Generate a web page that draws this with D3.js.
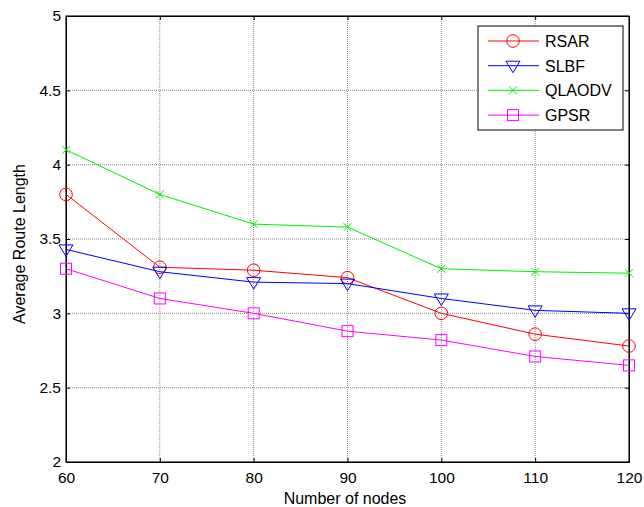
<!DOCTYPE html>
<html>
<head>
<meta charset="utf-8">
<script src="https://cdn.jsdelivr.net/npm/d3@7"></script>
<style>
  body { margin: 0; background: #fff; }
  svg text { font-family: "Liberation Sans", Arial, sans-serif; fill: #000; }
</style>
</head>
<body>
<svg id="chart" width="644" height="507"></svg>
<script>
  'use strict';

  let nodes = [60, 70, 80, 90, 100, 110, 120];
  let rsar = [3.80, 3.31, 3.29, 3.24, 3.00, 2.86, 2.78];
  let slbf = [3.43, 3.28, 3.21, 3.20, 3.10, 3.02, 3.00];
  let qlaodv = [4.10, 3.80, 3.60, 3.58, 3.30, 3.28, 3.27];
  let gpsr = [3.30, 3.10, 3.00, 2.88, 2.82, 2.71, 2.65];
  let yTicks = [2, 2.5, 3, 3.5, 4, 4.5, 5];

  let series = [
    { name: 'RSAR', values: rsar, color: '#ff0000', marker: 'circle' },
    { name: 'SLBF', values: slbf, color: '#0000ff', marker: 'triangle' },
    { name: 'QLAODV', values: qlaodv, color: '#00ee00', marker: 'cross' },
    { name: 'GPSR', values: gpsr, color: '#ff00ff', marker: 'square' }
  ];

  let margin = { left: 66, right: 15, top: 16, bottom: 45 };
  let width = 644, height = 507;

  let svg = d3.select('#chart');

  let x = d3.scaleLinear().domain([60, 120]).range([margin.left, width - margin.right]);
  let y = d3.scaleLinear().domain([2, 5]).range([height - margin.bottom, margin.top]);

  // Grid
  let grid = svg.append('g').attr('class', 'grid');
  grid.selectAll('.vgrid')
    .data(nodes)
    .enter()
    .append('line')
    .attr('x1', d => x(d)).attr('x2', d => x(d))
    .attr('y1', y(2)).attr('y2', y(5))
    .style('stroke', '#8a8a8a')
    .style('stroke-width', 1)
    .style('stroke-dasharray', '1,1');
  grid.selectAll('.hgrid')
    .data(yTicks)
    .enter()
    .append('line')
    .attr('x1', x(60)).attr('x2', x(120))
    .attr('y1', d => y(d)).attr('y2', d => y(d))
    .style('stroke', '#8a8a8a')
    .style('stroke-width', 1)
    .style('stroke-dasharray', '1,1');

  // Axes (inward ticks, closed box)
  let xAxis = d3.axisBottom(x).tickValues(nodes).tickSizeInner(-4).tickSizeOuter(0).tickPadding(10);
  let yAxis = d3.axisLeft(y).tickValues(yTicks).tickFormat(d3.format('')).tickSizeInner(-4).tickSizeOuter(0).tickPadding(5);

  svg.append('g')
    .attr('transform', 'translate(0,' + y(2) + ')')
    .call(xAxis)
    .call(g => g.selectAll('text').style('font-size', '15.5px'));
  svg.append('g')
    .attr('transform', 'translate(' + x(60) + ',0)')
    .call(yAxis)
    .call(g => g.selectAll('text').style('font-size', '15.5px'));
  svg.append('g')
    .attr('transform', 'translate(0,' + y(5) + ')')
    .call(d3.axisTop(x).tickValues(nodes).tickSizeInner(-4).tickSizeOuter(0).tickFormat(''));
  svg.append('g')
    .attr('transform', 'translate(' + x(120) + ',0)')
    .call(d3.axisRight(y).tickValues(yTicks).tickSizeInner(-4).tickSizeOuter(0).tickFormat(''));

  svg.append('rect')
    .attr('x', x(60)).attr('y', y(5))
    .attr('width', x(120) - x(60)).attr('height', y(2) - y(5))
    .style('fill', 'none').style('stroke', '#000').style('stroke-width', 1);

  // Axis titles
  svg.append('text')
    .attr('x', 345)
    .attr('y', 504)
    .style('text-anchor', 'middle')
    .style('font-size', '16px')
    .text('Number of nodes');
  svg.append('text')
    .attr('transform', 'translate(25,' + 244 + ') rotate(-90)')
    .style('text-anchor', 'middle')
    .style('font-size', '16px')
    .text('Average Route Length');

  // Markers
  function drawMarker(g, type, color) {
    if (type === 'circle') {
      g.append('circle').attr('r', 6.3).style('fill', 'none').style('stroke', color);
    } else if (type === 'triangle') {
      g.append('path').attr('d', 'M-7,-4.5L7,-4.5L0,7Z').style('fill', 'none').style('stroke', color);
    } else if (type === 'cross') {
      g.append('path').attr('d', 'M-4,-4L4,4M-4,4L4,-4').style('fill', 'none').style('stroke', color);
    } else if (type === 'square') {
      g.append('rect').attr('x', -5.5).attr('y', -5.5).attr('width', 11).attr('height', 11)
        .style('fill', 'none').style('stroke', color);
    }
  }

  let line = d3.line().x((d, i) => x(nodes[i])).y(d => y(d));

  series.forEach(s => {
    svg.append('path')
      .datum(s.values)
      .attr('d', line)
      .style('fill', 'none')
      .style('stroke', s.color)
      .style('stroke-width', 1);
    svg.selectAll('.m-' + s.name)
      .data(s.values)
      .enter()
      .append('g')
      .attr('transform', (d, i) => 'translate(' + x(nodes[i]) + ',' + y(d) + ')')
      .each(function() { drawMarker(d3.select(this), s.marker, s.color); });
  });

  // Legend
  let legend = svg.append('g').attr('transform', 'translate(478,26)');
  legend.append('rect')
    .attr('width', 145).attr('height', 104)
    .style('fill', '#fff').style('stroke', '#000').style('stroke-width', 1);
  series.forEach((s, i) => {
    let ly = 15 + i * 24.7;
    legend.append('line')
      .attr('x1', 10).attr('x2', 61)
      .attr('y1', ly).attr('y2', ly)
      .style('stroke', s.color);
    let m = legend.append('g').attr('transform', 'translate(35,' + ly + ')');
    drawMarker(m, s.marker, s.color);
    legend.append('text')
      .attr('x', 67).attr('y', ly + 6)
      .style('font-size', '16px')
      .text(s.name);
  });
</script>
</body>
</html>
